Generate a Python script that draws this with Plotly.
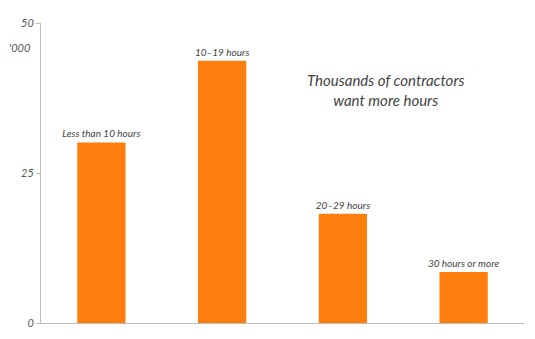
import plotly.graph_objects as go

# Contractors wanting more hours, by hours currently worked (thousands)
categories = ["Less than 10 hours", "10\u201319 hours", "20\u201329 hours", "30 hours or more"]
values = [30.1, 43.7, 18.2, 8.5]
tick_values = [0, 25, 50]
tick_labels = ["0", "25", "50"]

ORANGE = "#ff7f0e"
AXIS_GREY = "#bdbdbd"
TEXT_GREY = "#444444"
FONT = "Lato, 'Open Sans', sans-serif"

fig = go.Figure(
    go.Bar(
        x=categories,
        y=values,
        marker=dict(color=ORANGE, line=dict(width=0)),
        text=categories,
        texttemplate="<i>%{text}</i>",
        textposition="outside",
        constraintext="none",
        outsidetextfont=dict(family=FONT, size=10, color=TEXT_GREY),
        cliponaxis=False,
        hoverinfo="skip",
    )
)

fig.update_layout(
    width=535,
    height=339,
    margin=dict(l=41, r=11, t=23, b=16),
    paper_bgcolor="white",
    plot_bgcolor="white",
    bargap=0.6,
    showlegend=False,
    font=dict(family=FONT, color=TEXT_GREY),
    xaxis=dict(
        showticklabels=False,
        ticks="",
        showgrid=False,
        zeroline=False,
        showline=True,
        linecolor=AXIS_GREY,
        linewidth=1,
    ),
    yaxis=dict(
        range=[0, 50],
        tickmode="array",
        tickvals=tick_values,
        ticktext=[f"<i>{t}</i>" for t in tick_labels],
        ticks="outside",
        ticklen=4,
        tickcolor=AXIS_GREY,
        tickfont=dict(family=FONT, size=11, color="#555555"),
        showgrid=False,
        zeroline=False,
        showline=True,
        linecolor=AXIS_GREY,
        linewidth=1,
    ),
    annotations=[
        dict(
            text="<i>'000</i>",
            xref="paper",
            yref="y",
            x=0,
            y=46,
            xanchor="right",
            yanchor="middle",
            xshift=-9,
            showarrow=False,
            font=dict(family=FONT, size=11, color="#555555"),
        ),
        dict(
            text="<i>Thousands of contractors<br>want more hours</i>",
            xref="paper",
            yref="y",
            x=(385 - 41) / 483,
            y=(322.7 - 89.7) / 6,
            xanchor="center",
            yanchor="middle",
            showarrow=False,
            align="center",
            font=dict(family=FONT, size=15, color=TEXT_GREY),
        ),
    ],
)

fig.write_html("out.html")
